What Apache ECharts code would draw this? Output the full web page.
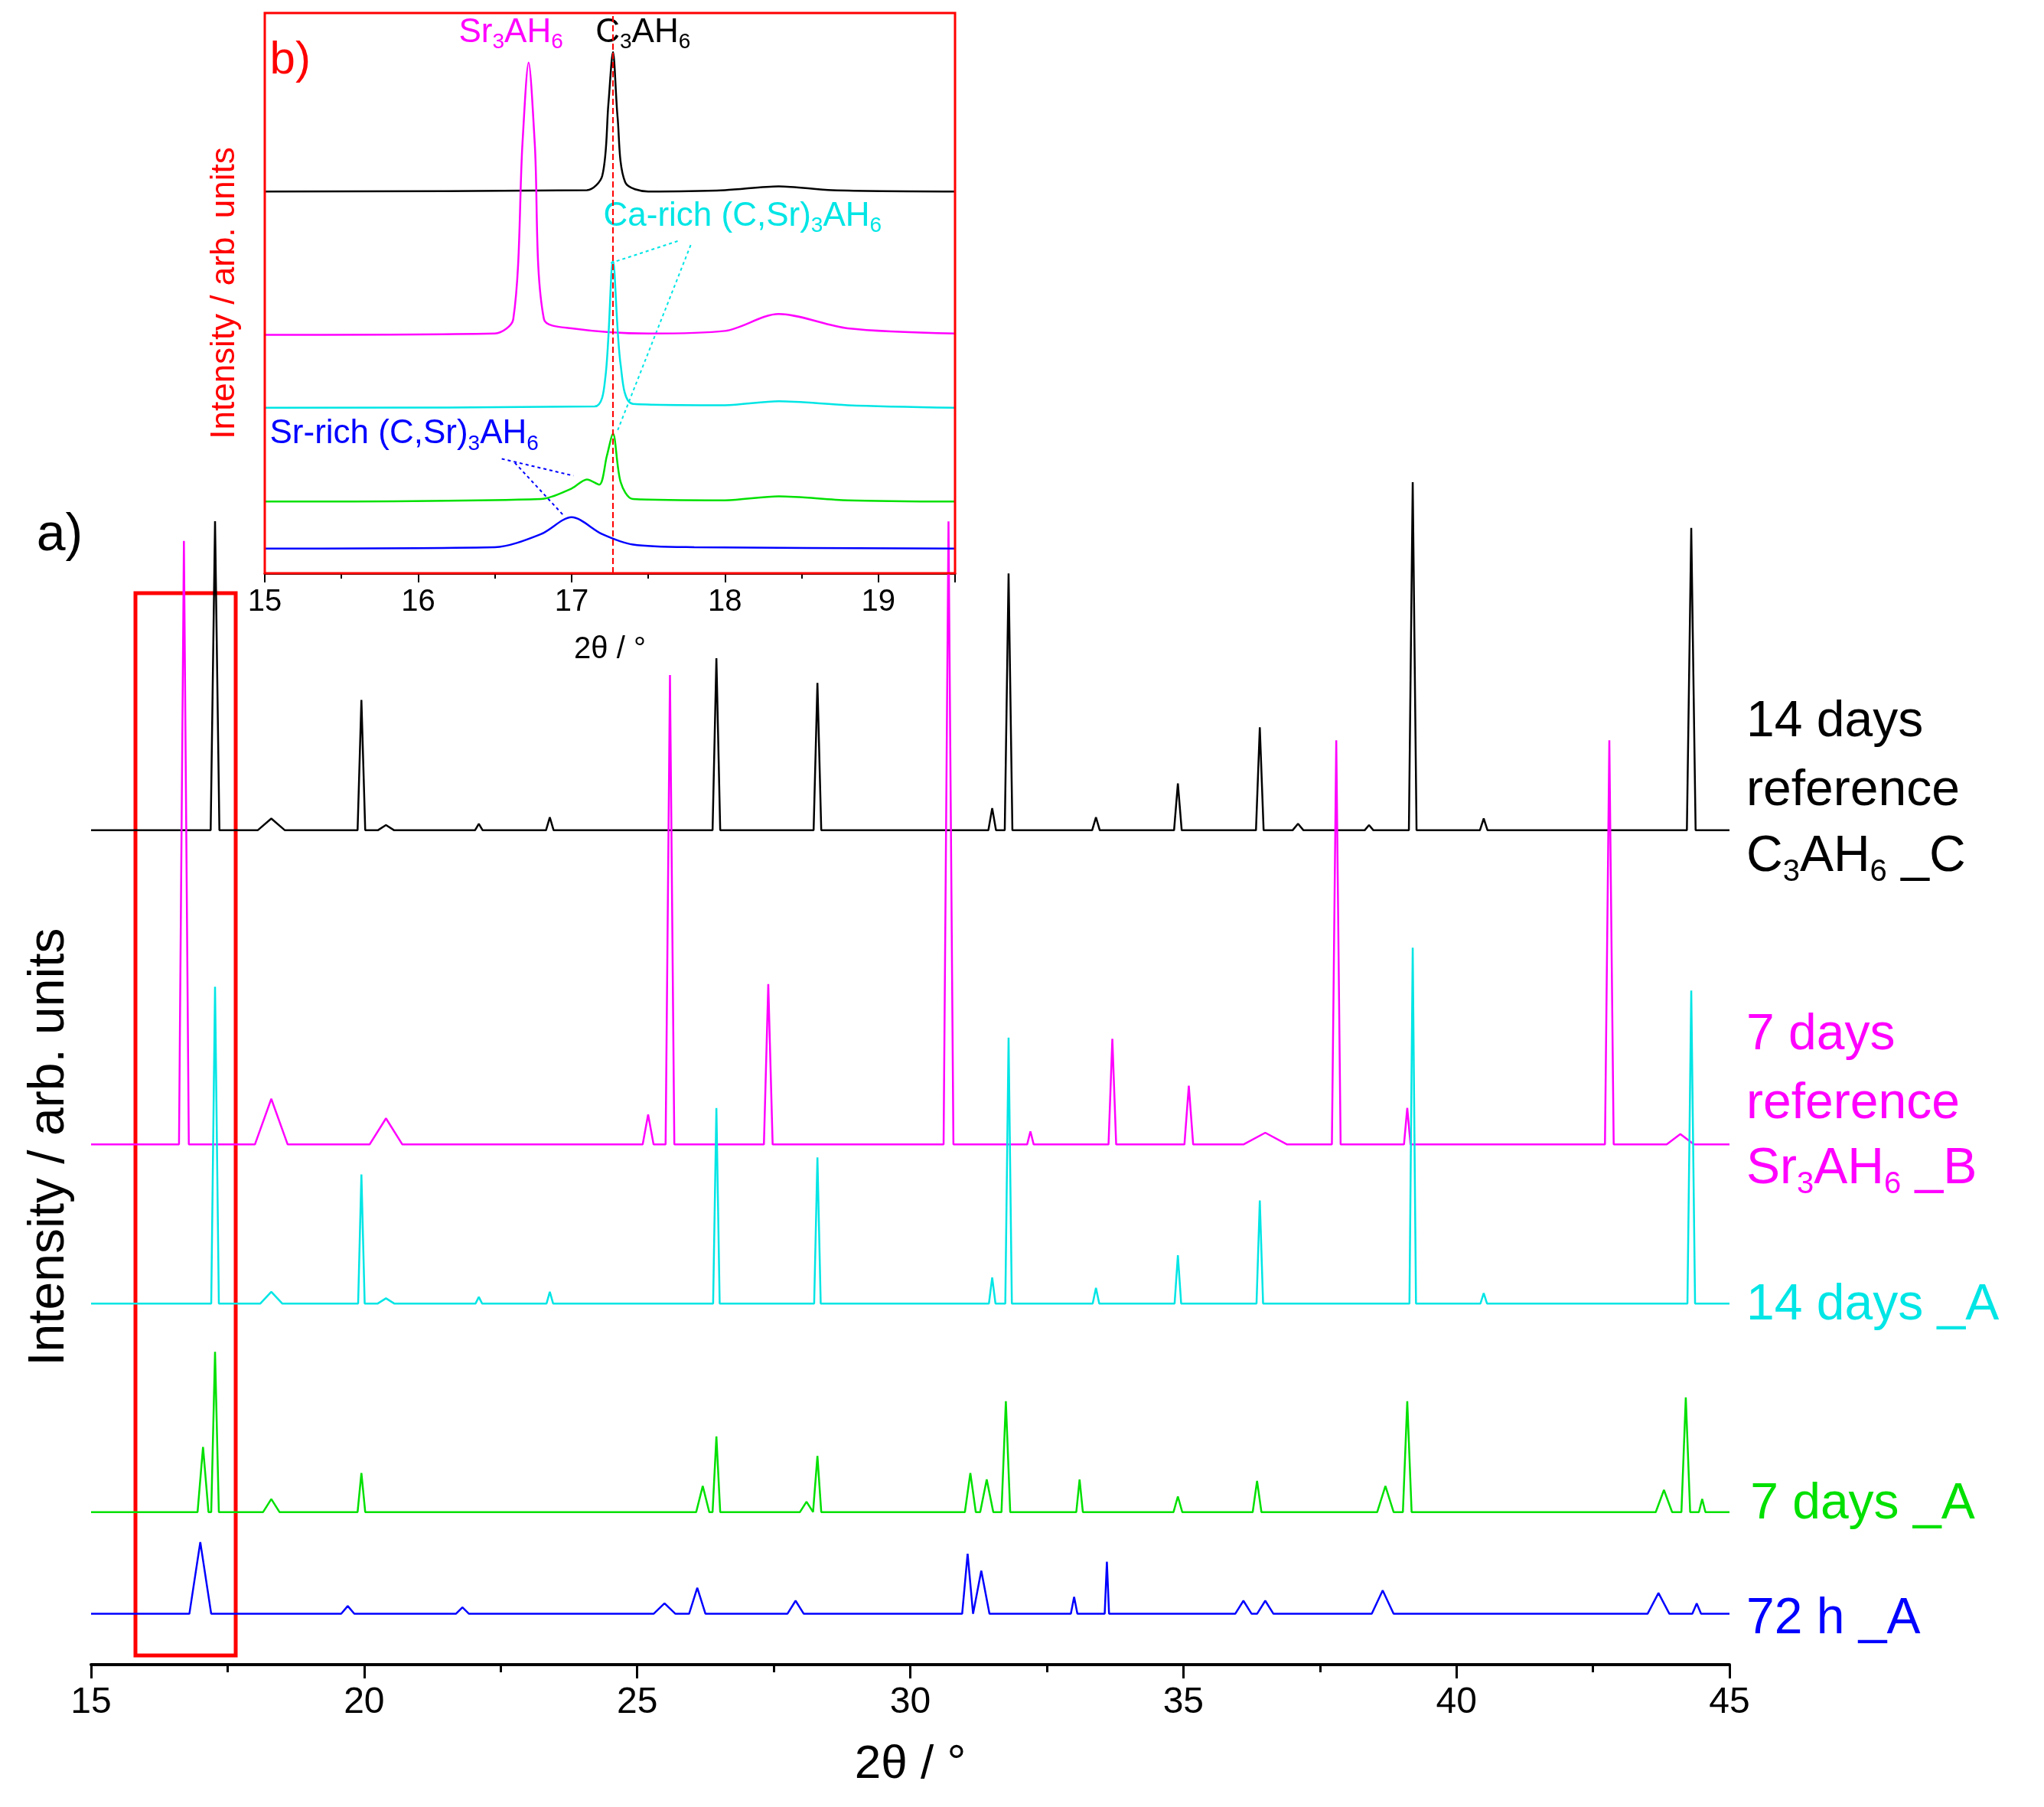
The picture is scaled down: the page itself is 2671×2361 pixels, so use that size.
<!DOCTYPE html>
<html><head><meta charset="utf-8">
<script src="https://cdn.jsdelivr.net/npm/echarts@6/dist/echarts.min.js"></script>
<style>html,body{margin:0;padding:0;background:#fff}#c{width:2671px;height:2361px}</style>
</head><body><div id="c"></div>
<script>
// Main panel: baseline (screen-derived level) and peaks [2θ, peak level, half width]
const baseC = 640, baseB = 399, base14A = 277, base7A = 117, base72A = 39;
const peaksC = [[17.27,877,0.08],[18.3,649,0.25],[19.95,740,0.07],[20.4,644,0.15],[22.1,645,0.07],[23.4,650,0.07],[26.45,772,0.07],[28.3,753,0.07],[31.5,657,0.07],[31.8,837,0.07],[33.4,650,0.07],[34.9,676,0.07],[36.4,719,0.07],[37.1,645,0.1],[38.4,644,0.08],[39.2,907,0.07],[40.5,649,0.07],[44.3,872,0.08]];
const peaksB = [[16.7,862,0.09],[18.3,434,0.3],[20.4,419,0.3],[25.2,422,0.1],[25.6,759,0.08],[27.4,522,0.08],[30.7,877,0.09],[32.2,409,0.06],[33.7,480,0.07],[35.1,444,0.08],[36.5,408,0.4],[37.8,709,0.08],[39.1,427,0.06],[42.8,709,0.08],[44.1,407,0.25]];
const peaks14A = [[17.27,520,0.07],[18.3,286,0.2],[19.95,376,0.06],[20.4,281,0.15],[22.1,282,0.06],[23.4,286,0.06],[26.45,427,0.06],[28.3,389,0.06],[31.5,297,0.06],[31.8,481,0.06],[33.4,289,0.06],[34.9,314,0.06],[36.4,356,0.06],[39.2,550,0.06],[40.5,285,0.06],[44.3,517,0.07]];
const peaks7A = [[17.05,167,0.1],[17.27,240,0.07],[18.3,127,0.15],[19.95,147,0.07],[26.2,137,0.12],[26.45,175,0.07],[28.1,125,0.12],[28.3,160,0.07],[31.1,147,0.1],[31.4,142,0.12],[31.75,202,0.08],[33.1,142,0.06],[34.9,129,0.08],[36.35,141,0.08],[38.7,137,0.15],[39.1,202,0.08],[43.8,134,0.15],[44.2,205,0.08],[44.5,127,0.06]];
const peaks72A = [[17.0,94,0.2],[19.7,45,0.12],[21.8,44,0.12],[25.5,47,0.2],[26.1,59,0.15],[27.9,49,0.15],[31.05,85,0.1],[31.3,72,0.15],[33.0,52,0.06],[33.6,79,0.04],[36.1,49,0.15],[36.5,49,0.15],[38.65,57,0.2],[43.7,55,0.2],[44.4,47,0.08]];
// Inset panel points [2θ, level]
const insC = [[15,293],[17.1,294],[17.2,305],[17.24,360],[17.27,400],[17.3,350],[17.35,300],[17.5,293],[18.0,294],[18.35,297],[18.7,294],[19.5,293]];
const insB = [[15,183],[16.5,184],[16.62,195],[16.68,330],[16.72,392],[16.76,330],[16.82,195],[17,188],[17.5,184],[18.0,186],[18.35,199],[18.8,188],[19.5,184]];
const ins14A = [[15,127],[17.15,128],[17.22,150],[17.27,240],[17.32,160],[17.4,130],[18.0,129],[18.35,132],[18.8,129],[19.5,127]];
const ins7A = [[15,55],[16.8,57],[17.0,65],[17.1,72],[17.18,68],[17.23,90],[17.27,107],[17.32,70],[17.4,57],[18.0,56],[18.35,59],[18.8,56],[19.5,55]];
const ins72A = [[15,19],[16.5,20],[16.8,30],[17.0,43],[17.2,30],[17.4,22],[17.8,20],[19.5,19]];
const colors = {C:'#000000',B:'#ff00ff',A14:'#00e5e5',A7:'#00e000',A72:'#0000ff'};

function build(base, peaks){
  const pts=[[15,base]];
  peaks.forEach(p=>{pts.push([p[0]-p[2],base],[p[0],p[1]],[p[0]+p[2],base]);});
  pts.push([45,base]);
  return pts;
}
const S=1.703;
const mainSer=[[baseC,peaksC,colors.C],[baseB,peaksB,colors.B],[base14A,peaks14A,colors.A14],[base7A,peaks7A,colors.A7],[base72A,peaks72A,colors.A72]].map(s=>({type:'line',xAxisIndex:0,yAxisIndex:0,data:build(s[0],s[1]),showSymbol:false,lineStyle:{color:s[2],width:2.5},z:2}));
const insSer=[[insC,colors.C],[insB,colors.B],[ins14A,colors.A14],[ins7A,colors.A7],[ins72A,colors.A72]].map(s=>({type:'line',xAxisIndex:1,yAxisIndex:1,data:s[0],showSymbol:false,smooth:0.3,lineStyle:{color:s[1],width:2.5},z:3}));
insSer[0].markLine={silent:true,symbol:'none',label:{show:false},lineStyle:{color:'#ff0000',type:'dashed',width:2},data:[{xAxis:17.27}]};

const F='Arial, "Liberation Sans", sans-serif';
function lbl(x,y,text,color,size){return {type:'text',left:x*S,top:y*S,style:{text:text,fill:color,font:size+'px '+F,lineHeight:90}};}
function subText(x,y,text,color,size,subSize,pad){return {type:'text',left:x*S,top:y*S,style:{text:text,fill:color,font:size+'px '+F,rich:{s:{fontSize:subSize,fill:color,padding:[pad,0,0,0]}}}};}
const chart=echarts.init(document.getElementById('c'));
chart.setOption({
  animation:false,backgroundColor:'#fff',
  grid:[{left:119,right:411,top:613,bottom:186},{left:346,right:1423,top:17,bottom:1612,show:true,borderColor:'#ff0000',borderWidth:3,backgroundColor:'transparent',z:5}],
  xAxis:[{gridIndex:0,type:'value',min:15,max:45,interval:5,name:'2θ / °',nameLocation:'middle',nameGap:100,nameTextStyle:{fontSize:62,fontFamily:F,color:'#000'},
    axisLine:{lineStyle:{color:'#000',width:4}},axisTick:{length:18,lineStyle:{width:3,color:'#000'}},minorTick:{show:true,splitNumber:2,length:10,lineStyle:{width:3,color:'#000'}},splitLine:{show:false},axisLabel:{fontSize:48,fontFamily:F,color:'#000',margin:26}},
    {gridIndex:1,type:'value',min:15,max:19.5,interval:1,name:'2θ / °',nameLocation:'middle',nameGap:80,nameTextStyle:{fontSize:40,fontFamily:F,color:'#000'},
    axisLine:{lineStyle:{color:'#000',width:3}},axisTick:{length:12,lineStyle:{width:2,color:'#000'}},minorTick:{show:true,splitNumber:2,length:7,lineStyle:{color:'#000',width:2}},splitLine:{show:false},axisLabel:{fontSize:40,fontFamily:F,color:'#000',margin:18,showMaxLabel:false}}],
  yAxis:[{gridIndex:0,type:'value',min:0,max:917,show:false},
    {gridIndex:1,type:'value',min:0,max:430,axisLine:{show:false},axisTick:{show:false},axisLabel:{show:false},splitLine:{show:false},
     name:'Intensity / arb. units',nameLocation:'middle',nameGap:30,nameTextStyle:{fontSize:44,fontFamily:F,color:'#ff0000'}}],
  series:mainSer.concat(insSer),
  graphic:[
    {type:'text',x:38*S,y:880*S,rotation:Math.PI/2,style:{text:'Intensity / arb. units',font:'66px '+F,fill:'#000',align:'center',verticalAlign:'middle'}},
    {type:'rect',shape:{x:177,y:775,width:131,height:1388},style:{fill:'none',stroke:'#ff0000',lineWidth:5}},
    lbl(28,385,'a)','#000',68),
    lbl(207,20,'b)','#ff0000',60),
    lbl(1340,528,'14 days\nreference','#000',66),
    subText(1340,638,'C{s|3}AH{s|6} _C','#000',66,40,40),
    lbl(1340,768,'7 days\nreference','#ff00ff',66),
    subText(1340,878,'Sr{s|3}AH{s|6} _B','#ff00ff',66,40,40),
    lbl(1340,975,'14 days _A','#00e5e5',66),
    lbl(1343,1128,'7 days _A','#00e000',66),
    lbl(1340,1216,'72 h _A','#0000ff',66),
    subText(352,12,'Sr{s|3}AH{s|6}','#ff00ff',44,28,26),
    subText(457,12,'C{s|3}AH{s|6}','#000',44,28,26),
    subText(463,153,'Ca-rich (C,Sr){s|3}AH{s|6}','#00e5e5',44,28,26),
    subText(207,320,'Sr-rich (C,Sr){s|3}AH{s|6}','#0000ff',44,28,26),
    {type:'line',shape:{x1:520*S,y1:185*S,x2:468*S,y2:202*S},style:{stroke:'#00e5e5',lineWidth:2,lineDash:[4,4]}},
    {type:'line',shape:{x1:530*S,y1:188*S,x2:474*S,y2:330*S},style:{stroke:'#00e5e5',lineWidth:2,lineDash:[4,4]}},
    {type:'line',shape:{x1:385*S,y1:352*S,x2:440*S,y2:365*S},style:{stroke:'#0000ff',lineWidth:2,lineDash:[4,4]}},
    {type:'line',shape:{x1:395*S,y1:355*S,x2:432*S,y2:395*S},style:{stroke:'#0000ff',lineWidth:2,lineDash:[4,4]}}
  ]
});
</script></body></html>
